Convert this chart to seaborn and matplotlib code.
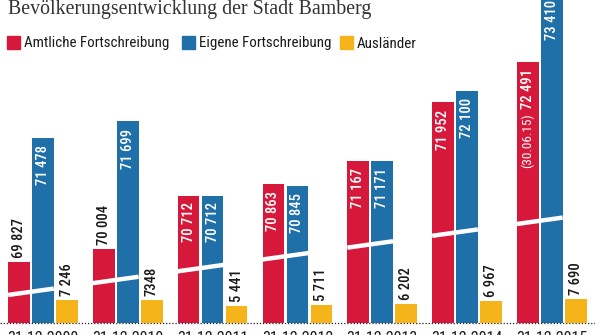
import matplotlib
matplotlib.use("Agg")
import matplotlib.pyplot as plt
import matplotlib.transforms as mtransforms
from matplotlib.patches import Rectangle
import pandas as pd
import seaborn as sns

# Population of Bamberg at each reference date
dates = ["31.12.2000", "31.12.2010", "31.12.2011", "31.12.2012",
         "31.12.2013", "31.12.2014", "31.12.2015"]
amtlich = [69827, 70004, 70712, 70863, 71167, 71952, 72491]
eigene = [71478, 71699, 70712, 70845, 71171, 72100, 73410]
auslaender = [7246, 7348, 5441, 5711, 6202, 6967, 7690]
auslaender_labels = ["7 246", "7348", "5 441", "5 711", "6 202", "6 967", "7 690"]
series = ["Amtliche Fortschreibung", "Eigene Fortschreibung", "Ausländer"]
colors = ["#d6193b", "#1f6fa8", "#f5b51a"]
title = "Bevölkerungsentwicklung der Stadt Bamberg"
amtlich_2015_note = "(30.06.15)"

sns.set_theme(style="white")
plt.rcParams["font.family"] = ["Roboto Condensed", "DejaVu Sans"]

W, H = 595, 335
fig = plt.figure(figsize=(W / 100, H / 100), dpi=100)
base_px = 12  # baseline height above the bottom edge
ax1 = fig.add_axes([0, base_px / H, 1, (H - base_px) / H])
ax2 = ax1.twinx()

df = pd.DataFrame({
    "Datum": dates * 3,
    "Reihe": [series[0]] * 7 + [series[1]] * 7 + [series[2]] * 7,
    "Wert": amtlich + eigene + auslaender,
})
palette = dict(zip(series, colors))
bar_kw = dict(data=df, x="Datum", y="Wert", hue="Reihe", hue_order=series,
              order=dates, palette=palette, width=0.85, gap=0.1,
              saturation=1, legend=False, linewidth=0)

# total population on a truncated scale, foreigners on their own scale
sns.barplot(ax=ax1, **bar_kw)
sns.barplot(ax=ax2, **bar_kw)

ax1.set_ylim(69014.5, 73316.5)
ax2.set_ylim(0, 104000)
xlim = (-0.507, 6.509)
ax1.set_xlim(*xlim)
ax2.set_xlim(*xlim)

red_bars, blue_bars, _ = ax1.containers
_, _, yel_bars = ax2.containers
for cont in ax2.containers[:2]:
    for p in cont.patches:
        p.set_visible(False)

for ax in (ax1, ax2):
    ax.set_xlabel("")
    ax.set_ylabel("")
    ax.set_yticks([])
    for s in ax.spines.values():
        s.set_visible(False)
ax1.tick_params(axis="x", length=0, pad=5.5, labelsize=11.5, colors="#1a1a1a")

# dotted baseline
ax1.axhline(ax1.get_ylim()[0], color="#222222", lw=0.9, ls=(0, (1, 1.5)),
            clip_on=False, zorder=5)

label_kw = dict(rotation=90, ha="center", fontsize=10.5, fontweight="medium",
                textcoords="offset points")
px_per_unit = (H - base_px) / (ax1.get_ylim()[1] - ax1.get_ylim()[0])


def fmt(v):
    return f"{v:,}".replace(",", " ")


main_labels = {}
for is_red, bars, vals in ((True, red_bars, amtlich), (False, blue_bars, eigene)):
    for i, (p, v) in enumerate(zip(bars.patches, vals)):
        xc = p.get_x() + p.get_width() / 2
        h_px = (v - ax1.get_ylim()[0]) * px_per_unit
        if h_px > 100:
            t = ax1.annotate(fmt(v), xy=(xc, v), xytext=(0, -5), va="top",
                             color="white", annotation_clip=False, **label_kw)
        else:
            t = ax1.annotate(fmt(v), xy=(xc, v), xytext=(0, 3), va="bottom",
                             color="#1a1a1a", annotation_clip=False, **label_kw)
        main_labels[(is_red, i)] = t

for p, lab, v in zip(yel_bars.patches, auslaender_labels, auslaender):
    xc = p.get_x() + p.get_width() / 2
    ax2.annotate(lab, xy=(xc, v), xytext=(0, 3), va="bottom",
                 color="#1a1a1a", **label_kw)

# reference date note for the last official value
fig.canvas.draw()
lab = main_labels[(True, 6)]
bb = lab.get_window_extent()
p6 = red_bars.patches[6]
xc = p6.get_x() + p6.get_width() / 2
note_y = ax1.transData.inverted().transform((0, bb.y0 - 4))[1]
ax1.text(xc, note_y, amtlich_2015_note, rotation=90, ha="center", va="top",
         color="white", fontsize=9.5)

# white axis-break stroke across the truncated bars
trans = mtransforms.blended_transform_factory(ax1.transData, ax1.transAxes)
y0_frac, slope = 0.0833, 0.257
for r, b in zip(red_bars.patches, blue_bars.patches):
    xa = r.get_x()
    xb = b.get_x() + b.get_width()
    fa = (xa - xlim[0]) / (xlim[1] - xlim[0])
    fb = (xb - xlim[0]) / (xlim[1] - xlim[0])
    ax1.plot([xa, xb], [y0_frac + slope * fa, y0_frac + slope * fb],
             transform=trans, color="white", lw=3.2, solid_capstyle="butt",
             zorder=4)

# title and legend
fig.text(8 / W, 1 - 14 / H, title, family=["Liberation Serif", "DejaVu Serif"],
         fontsize=14.3, color="#333333", ha="left", va="baseline")
legend_items = [(7, series[0], colors[0]), (182, series[1], colors[1]),
                (340, series[2], colors[2])]
for x, text, c in legend_items:
    fig.patches.append(Rectangle((x / W, 1 - 49 / H), 13 / W, 13 / H,
                                 transform=fig.transFigure, color=c))
    fig.text((x + 17) / W, 1 - 47.5 / H, text, fontsize=10.8, color="#1a1a1a",
             ha="left", va="baseline")

fig.savefig("out.png", dpi=100)
